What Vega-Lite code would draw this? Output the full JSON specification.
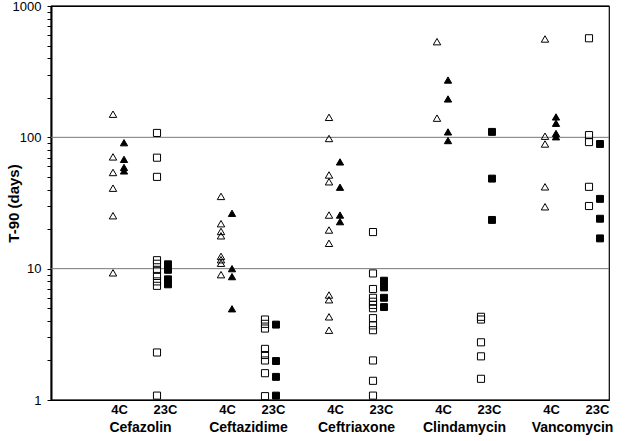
{
  "$schema": "https://vega.github.io/schema/vega-lite/v6.json",
  "width": 558,
  "height": 394,
  "autosize": "none",
  "padding": {"left": 51, "top": 6, "right": 22, "bottom": 41},
  "background": "white",
  "config": {"view": {"stroke": "#000000", "strokeWidth": 1.2}, "font": "Liberation Sans"},
  "datasets": {
    "drugs": [
      {"drug": "Cefazolin"}, {"drug": "Ceftazidime"}, {"drug": "Ceftriaxone"}, {"drug": "Clindamycin"}, {"drug": "Vancomycin"}
    ],
    "t90": [
    {"drug": "Cefazolin", "group": "4C open", "t90": 150},
    {"drug": "Cefazolin", "group": "4C open", "t90": 71},
    {"drug": "Cefazolin", "group": "4C open", "t90": 54},
    {"drug": "Cefazolin", "group": "4C open", "t90": 41},
    {"drug": "Cefazolin", "group": "4C open", "t90": 25.3},
    {"drug": "Cefazolin", "group": "4C open", "t90": 9.3},
    {"drug": "Cefazolin", "group": "4C filled", "t90": 91},
    {"drug": "Cefazolin", "group": "4C filled", "t90": 68},
    {"drug": "Cefazolin", "group": "4C filled", "t90": 59},
    {"drug": "Cefazolin", "group": "4C filled", "t90": 55.5},
    {"drug": "Cefazolin", "group": "23C open", "t90": 108},
    {"drug": "Cefazolin", "group": "23C open", "t90": 70},
    {"drug": "Cefazolin", "group": "23C open", "t90": 50},
    {"drug": "Cefazolin", "group": "23C open", "t90": 11.6},
    {"drug": "Cefazolin", "group": "23C open", "t90": 10.9},
    {"drug": "Cefazolin", "group": "23C open", "t90": 9.8},
    {"drug": "Cefazolin", "group": "23C open", "t90": 8.8},
    {"drug": "Cefazolin", "group": "23C open", "t90": 8.0},
    {"drug": "Cefazolin", "group": "23C open", "t90": 7.4},
    {"drug": "Cefazolin", "group": "23C open", "t90": 2.3},
    {"drug": "Cefazolin", "group": "23C open", "t90": 1.08},
    {"drug": "Cefazolin", "group": "23C filled", "t90": 10.8},
    {"drug": "Cefazolin", "group": "23C filled", "t90": 9.8},
    {"drug": "Cefazolin", "group": "23C filled", "t90": 8.3},
    {"drug": "Cefazolin", "group": "23C filled", "t90": 7.6},
    {"drug": "Ceftazidime", "group": "4C open", "t90": 35.5},
    {"drug": "Ceftazidime", "group": "4C open", "t90": 22},
    {"drug": "Ceftazidime", "group": "4C open", "t90": 19.2},
    {"drug": "Ceftazidime", "group": "4C open", "t90": 17.8},
    {"drug": "Ceftazidime", "group": "4C open", "t90": 12.4},
    {"drug": "Ceftazidime", "group": "4C open", "t90": 11.7},
    {"drug": "Ceftazidime", "group": "4C open", "t90": 11},
    {"drug": "Ceftazidime", "group": "4C open", "t90": 9},
    {"drug": "Ceftazidime", "group": "4C filled", "t90": 26.4},
    {"drug": "Ceftazidime", "group": "4C filled", "t90": 10},
    {"drug": "Ceftazidime", "group": "4C filled", "t90": 8.7},
    {"drug": "Ceftazidime", "group": "4C filled", "t90": 4.95},
    {"drug": "Ceftazidime", "group": "23C open", "t90": 4.1},
    {"drug": "Ceftazidime", "group": "23C open", "t90": 3.8},
    {"drug": "Ceftazidime", "group": "23C open", "t90": 3.5},
    {"drug": "Ceftazidime", "group": "23C open", "t90": 2.45},
    {"drug": "Ceftazidime", "group": "23C open", "t90": 2.2},
    {"drug": "Ceftazidime", "group": "23C open", "t90": 2.0},
    {"drug": "Ceftazidime", "group": "23C open", "t90": 1.6},
    {"drug": "Ceftazidime", "group": "23C open", "t90": 1.07},
    {"drug": "Ceftazidime", "group": "23C filled", "t90": 3.75},
    {"drug": "Ceftazidime", "group": "23C filled", "t90": 1.98},
    {"drug": "Ceftazidime", "group": "23C filled", "t90": 1.5},
    {"drug": "Ceftazidime", "group": "23C filled", "t90": 1.08},
    {"drug": "Ceftriaxone", "group": "4C open", "t90": 142},
    {"drug": "Ceftriaxone", "group": "4C open", "t90": 98},
    {"drug": "Ceftriaxone", "group": "4C open", "t90": 51.7},
    {"drug": "Ceftriaxone", "group": "4C open", "t90": 45.9},
    {"drug": "Ceftriaxone", "group": "4C open", "t90": 25.6},
    {"drug": "Ceftriaxone", "group": "4C open", "t90": 19.7},
    {"drug": "Ceftriaxone", "group": "4C open", "t90": 15.6},
    {"drug": "Ceftriaxone", "group": "4C open", "t90": 6.3},
    {"drug": "Ceftriaxone", "group": "4C open", "t90": 5.8},
    {"drug": "Ceftriaxone", "group": "4C open", "t90": 4.3},
    {"drug": "Ceftriaxone", "group": "4C open", "t90": 3.4},
    {"drug": "Ceftriaxone", "group": "4C filled", "t90": 65},
    {"drug": "Ceftriaxone", "group": "4C filled", "t90": 41.7},
    {"drug": "Ceftriaxone", "group": "4C filled", "t90": 25.6},
    {"drug": "Ceftriaxone", "group": "4C filled", "t90": 22.8},
    {"drug": "Ceftriaxone", "group": "23C open", "t90": 19},
    {"drug": "Ceftriaxone", "group": "23C open", "t90": 9.2},
    {"drug": "Ceftriaxone", "group": "23C open", "t90": 7},
    {"drug": "Ceftriaxone", "group": "23C open", "t90": 6},
    {"drug": "Ceftriaxone", "group": "23C open", "t90": 5.6},
    {"drug": "Ceftriaxone", "group": "23C open", "t90": 5.3},
    {"drug": "Ceftriaxone", "group": "23C open", "t90": 5.0},
    {"drug": "Ceftriaxone", "group": "23C open", "t90": 4.2},
    {"drug": "Ceftriaxone", "group": "23C open", "t90": 3.7},
    {"drug": "Ceftriaxone", "group": "23C open", "t90": 3.4},
    {"drug": "Ceftriaxone", "group": "23C open", "t90": 2.0},
    {"drug": "Ceftriaxone", "group": "23C open", "t90": 1.4},
    {"drug": "Ceftriaxone", "group": "23C open", "t90": 1.08},
    {"drug": "Ceftriaxone", "group": "23C filled", "t90": 8.1},
    {"drug": "Ceftriaxone", "group": "23C filled", "t90": 7.2},
    {"drug": "Ceftriaxone", "group": "23C filled", "t90": 6},
    {"drug": "Ceftriaxone", "group": "23C filled", "t90": 5.1},
    {"drug": "Clindamycin", "group": "4C open", "t90": 535},
    {"drug": "Clindamycin", "group": "4C open", "t90": 140},
    {"drug": "Clindamycin", "group": "4C filled", "t90": 273},
    {"drug": "Clindamycin", "group": "4C filled", "t90": 196},
    {"drug": "Clindamycin", "group": "4C filled", "t90": 110},
    {"drug": "Clindamycin", "group": "4C filled", "t90": 94.5},
    {"drug": "Clindamycin", "group": "23C open", "t90": 4.3},
    {"drug": "Clindamycin", "group": "23C open", "t90": 4.1},
    {"drug": "Clindamycin", "group": "23C open", "t90": 2.75},
    {"drug": "Clindamycin", "group": "23C open", "t90": 2.15},
    {"drug": "Clindamycin", "group": "23C open", "t90": 1.45},
    {"drug": "Clindamycin", "group": "23C filled", "t90": 110},
    {"drug": "Clindamycin", "group": "23C filled", "t90": 48.5},
    {"drug": "Clindamycin", "group": "23C filled", "t90": 23.5},
    {"drug": "Vancomycin", "group": "4C open", "t90": 561},
    {"drug": "Vancomycin", "group": "4C open", "t90": 102},
    {"drug": "Vancomycin", "group": "4C open", "t90": 89},
    {"drug": "Vancomycin", "group": "4C open", "t90": 42},
    {"drug": "Vancomycin", "group": "4C open", "t90": 29.6},
    {"drug": "Vancomycin", "group": "4C filled", "t90": 143},
    {"drug": "Vancomycin", "group": "4C filled", "t90": 128},
    {"drug": "Vancomycin", "group": "4C filled", "t90": 107},
    {"drug": "Vancomycin", "group": "4C filled", "t90": 101},
    {"drug": "Vancomycin", "group": "23C open", "t90": 568},
    {"drug": "Vancomycin", "group": "23C open", "t90": 104},
    {"drug": "Vancomycin", "group": "23C open", "t90": 92},
    {"drug": "Vancomycin", "group": "23C open", "t90": 42},
    {"drug": "Vancomycin", "group": "23C open", "t90": 30},
    {"drug": "Vancomycin", "group": "23C filled", "t90": 89},
    {"drug": "Vancomycin", "group": "23C filled", "t90": 34},
    {"drug": "Vancomycin", "group": "23C filled", "t90": 24},
    {"drug": "Vancomycin", "group": "23C filled", "t90": 17}
    ]
  },
  "layer": [
    {
      "data": {"values": [{"g": 10}, {"g": 100}]},
      "mark": {"type": "rule", "color": "#777777", "strokeWidth": 1},
      "encoding": {"y": {"field": "g", "type": "quantitative"}}
    },
    {
      "data": {"values": [{"b": 1}, {"b": 1000}]},
      "mark": {"type": "rule", "color": "#000000", "strokeWidth": 1.2},
      "encoding": {"y": {"field": "b", "type": "quantitative"}}
    },
    {
      "data": {"name": "t90"},
      "mark": {"type": "point", "filled": true, "stroke": "#000000", "strokeWidth": 1, "opacity": 1},
      "encoding": {
        "x": {
          "field": "drug", "type": "nominal",
          "scale": {"type": "band", "domain": ["Cefazolin", "Ceftazidime", "Ceftriaxone", "Clindamycin", "Vancomycin"], "paddingInner": 0, "paddingOuter": 0.0833333, "align": 0.5},
          "axis": {"orient": "bottom", "title": null, "domain": false, "ticks": false, "grid": false, "labelAngle": 0, "labelPadding": 20, "labelOffset": 26.5, "labelFontSize": 14, "labelFontWeight": "bold", "labelColor": "#000000"}
        },
        "xOffset": {
          "field": "group", "type": "nominal",
          "scale": {"type": "point", "domain": ["4C open", "4C filled", "gap1", "gap2", "23C open", "23C filled"], "range": [53, 108], "padding": 0}
        },
        "y": {
          "field": "t90", "type": "quantitative",
          "scale": {"type": "log", "domain": [1, 1000], "nice": false},
          "axis": {
            "values": [1, 2, 3, 4, 5, 6, 7, 8, 9, 10, 20, 30, 40, 50, 60, 70, 80, 90, 100, 200, 300, 400, 500, 600, 700, 800, 900, 1000],
            "format": "d",
            "labelExpr": "(datum.value == 1 || datum.value == 10 || datum.value == 100 || datum.value == 1000) ? datum.label : ''",
            "labelOverlap": false,
            "labelFlush": false,
            "labelFontSize": 13,
            "labelColor": "#000000",
            "labelPadding": 6,
            "title": "T-90 (days)",
            "titleFontSize": 15,
            "titleFontWeight": "bold",
            "titleColor": "#000000",
            "titlePadding": -9,
            "domain": true,
            "domainColor": "#000000",
            "domainWidth": 2,
            "ticks": true,
            "tickColor": "#000000",
            "tickOpacity": 1,
            "tickWidth": 1,
            "tickSize": 4,
            "grid": false
          }
        },
        "shape": {"field": "group", "type": "nominal", "scale": {"domain": ["4C open", "4C filled", "23C open", "23C filled"], "range": ["triangle-up", "triangle-up", "square", "square"]}, "legend": null},
        "fill": {"field": "group", "type": "nominal", "scale": {"domain": ["4C open", "4C filled", "23C open", "23C filled"], "range": ["transparent", "#000000", "transparent", "#000000"]}, "legend": null},
        "size": {"field": "group", "type": "nominal", "scale": {"domain": ["4C open", "4C filled", "23C open", "23C filled"], "range": [55, 48, 42, 36]}, "legend": null}
      }
    },
    {
      "data": {"name": "drugs"},
      "mark": {"type": "point", "opacity": 0},
      "encoding": {
        "x": {"field": "drug", "type": "nominal",
          "axis": {"orient": "bottom", "title": null, "domain": false, "ticks": false, "grid": false, "labelAngle": 0, "labelPadding": 3, "labelOffset": 5.5, "labelExpr": "'4C'", "labelFontSize": 13, "labelFontWeight": "bold", "labelColor": "#000000"}}
      }
    },
    {
      "data": {"name": "drugs"},
      "mark": {"type": "point", "opacity": 0},
      "encoding": {
        "x": {"field": "drug", "type": "nominal",
          "axis": {"orient": "bottom", "title": null, "domain": false, "ticks": false, "grid": false, "labelAngle": 0, "labelPadding": 3, "labelOffset": 51.5, "labelExpr": "'23C'", "labelFontSize": 13, "labelFontWeight": "bold", "labelColor": "#000000"}}
      }
    }
  ],
  "resolve": {"axis": {"x": "independent"}}
}
